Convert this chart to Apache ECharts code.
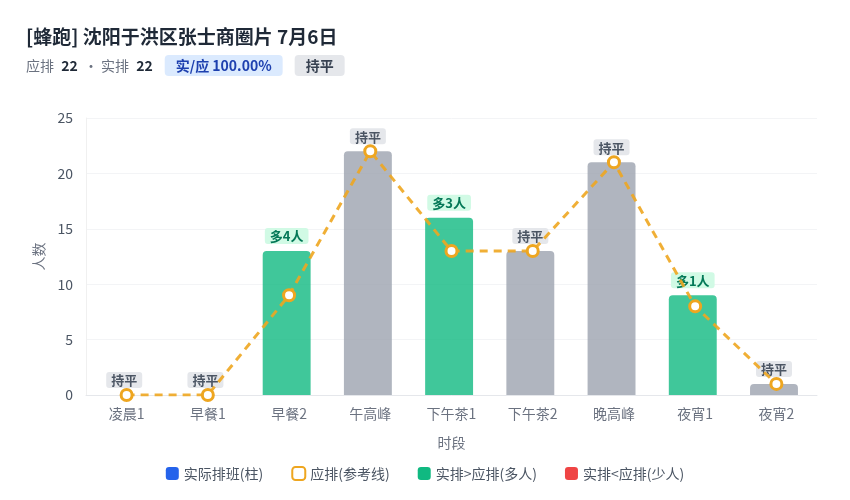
<!DOCTYPE html>
<html>
<head>
<meta charset="utf-8">
<script src="https://cdn.jsdelivr.net/npm/echarts@6/dist/echarts.min.js"></script>
<style>
html,body{margin:0;padding:0;background:#fff;}
#c{width:850px;height:500px;}
</style>
</head>
<body>
<div id="c"></div>
<script>
const categories = ['凌晨1','早餐1','早餐2','午高峰','下午茶1','下午茶2','晚高峰','夜宵1','夜宵2'];
const actualValues = [0,0,13,22,16,13,21,9,1];
const planValues = [0,0,9,22,13,13,21,8,1];
const yTicks = [0,5,10,15,20,25];
const titleText = '[蜂跑] 沈阳于洪区张士商圈片 7月6日';
const planTotal = 22;
const actualTotal = 22;
const ratioText = '实/应 100.00%';
const overallStatus = '持平';
const legendNames = ['实际排班(柱)','应排(参考线)','实排>应排(多人)','实排<应排(少人)'];

const GREEN = 'rgba(16,185,129,0.8)';
const GRAY = 'rgba(156,163,175,0.8)';
const RED = 'rgba(239,68,68,0.8)';
const ORANGE = '#eea620';
const FONT = '"Noto Sans CJK SC","Noto Sans",sans-serif';

const barData = actualValues.map((v, i) => {
  const d = v - planValues[i];
  let color = GRAY, text = '持平', lbg = '#e5e7eb', lc = '#4b5563';
  if (d > 0) { color = GREEN; text = '多' + d + '人'; lbg = '#d1fae5'; lc = '#047857'; }
  else if (d < 0) { color = RED; text = '少' + (-d) + '人'; lbg = '#fee2e2'; lc = '#b91c1c'; }
  return {
    value: v,
    itemStyle: { color: color, borderRadius: [4,4,0,0] },
    label: {
      show: true, position: 'top', distance: 7,
      formatter: text, backgroundColor: lbg, color: lc,
      fontWeight: 'bold', fontSize: 13, padding: [2,5,1,5], borderRadius: 3,
      fontFamily: FONT
    }
  };
});

const chart = echarts.init(document.getElementById('c'));
chart.setOption({
  backgroundColor: '#fff',
  textStyle: { fontFamily: FONT },
  title: {
    left: 21, top: 22,
    text: titleText,
    textStyle: { fontSize: 19, fontWeight: 'bold', color: '#1f2937', fontFamily: FONT },
    subtext: '{a|应排 }{b|' + planTotal + '}{a|  · 实排 }{b|' + actualTotal + '}{s| }{c|' + ratioText + '}{s| }{d|' + overallStatus + '}',
    itemGap: 9,
    subtextStyle: {
      rich: {
        a: { color: '#6b7280', fontSize: 14, fontFamily: FONT },
        b: { color: '#1f2937', fontSize: 14, fontWeight: 'bold', fontFamily: FONT, padding: [0,0,0,4] },
        s: { width: 12 },
        c: { color: '#1e40af', backgroundColor: '#dbeafe', fontSize: 14, fontWeight: 'bold', padding: [4,11,3,11], borderRadius: 4, fontFamily: FONT },
        d: { color: '#374151', backgroundColor: '#e5e7eb', fontSize: 14, fontWeight: 'bold', padding: [4,11,3,11], borderRadius: 4, fontFamily: FONT }
      }
    }
  },
  legend: {
    bottom: 14, left: 'center',
    itemWidth: 13, itemHeight: 13, itemGap: 28,
    textStyle: { color: '#4b5563', fontSize: 14, fontFamily: FONT },
    data: [
      { name: legendNames[0], icon: 'roundRect', itemStyle: { color: '#2563eb' } },
      { name: legendNames[1], icon: 'roundRect', itemStyle: { color: '#fff', borderColor: ORANGE, borderWidth: 2 } },
      { name: legendNames[2], icon: 'roundRect', itemStyle: { color: '#10b981' } },
      { name: legendNames[3], icon: 'roundRect', itemStyle: { color: '#ef4444' } }
    ],
    selectedMode: false
  },
  grid: { left: 86, right: 33, top: 118, bottom: 105 },
  xAxis: {
    type: 'category',
    data: categories,
    name: '时段', nameLocation: 'middle', nameGap: 41,
    nameTextStyle: { color: '#6b7280', fontSize: 14 },
    axisLine: { lineStyle: { color: '#e5e7eb' } },
    axisTick: { show: false },
    axisLabel: { color: '#6b7280', fontSize: 14, margin: 12 }
  },
  yAxis: {
    type: 'value', min: 0, max: 25, interval: 5,
    name: '人数', nameLocation: 'middle', nameGap: 40,
    nameTextStyle: { color: '#6b7280', fontSize: 14 },
    axisLine: { show: true, lineStyle: { color: '#f0f0f0' } },
    axisLabel: { color: '#4b5563', fontSize: 14, margin: 13 },
    splitLine: { lineStyle: { color: '#f3f4f6' } }
  },
  series: [
    {
      name: legendNames[0], type: 'bar', barWidth: '59%',
      itemStyle: { color: '#2563eb' },
      data: barData, z: 2
    },
    {
      name: legendNames[1], type: 'line', data: planValues,
      symbol: 'circle', symbolSize: 11,
      itemStyle: { color: '#fff', borderColor: ORANGE, borderWidth: 3 },
      lineStyle: { color: ORANGE, width: 3, type: [8,6], opacity: 0.9 },
      z: 5
    },
    { name: legendNames[2], type: 'bar', data: [], itemStyle: { color: '#10b981' } },
    { name: legendNames[3], type: 'bar', data: [], itemStyle: { color: '#ef4444' } }
  ]
});
</script>
</body>
</html>
